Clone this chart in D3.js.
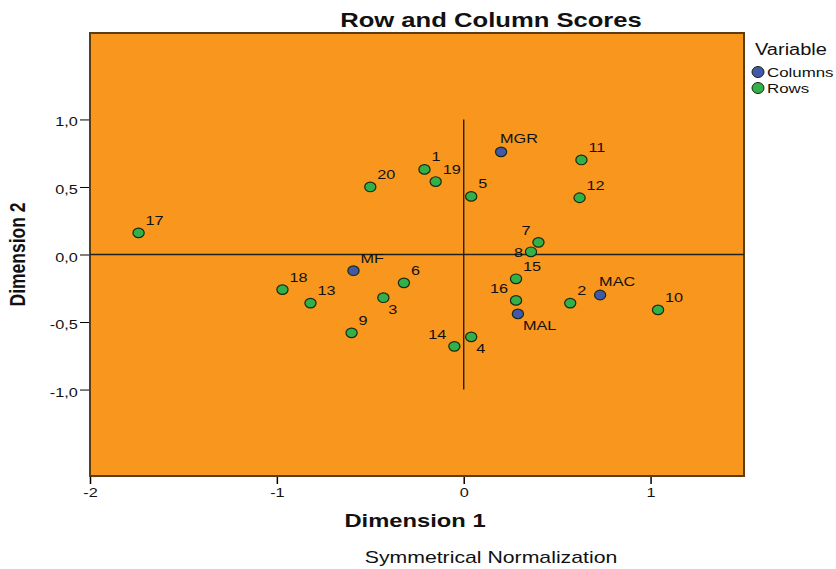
<!DOCTYPE html>
<html>
<head>
<meta charset="utf-8">
<script src="https://cdnjs.cloudflare.com/ajax/libs/d3/7.8.5/d3.min.js"></script>
<style>
body { margin: 0; background: #fff; }
text { font-family: "Liberation Sans", Arial, sans-serif; fill: #111; }
</style>
</head>
<body>
<script>
// correspondence analysis scores
var labels = ["17","20","1","19","MGR","5","11","12","7","8","15","16","MAL","2","MAC","10","4","14","9","3","6","MF","18","13"];
var dim1 = [-1.74,-0.50,-0.21,-0.15,0.20,0.04,0.63,0.62,0.40,0.36,0.28,0.28,0.29,0.57,0.73,1.04,0.04,-0.05,-0.60,-0.43,-0.32,-0.59,-0.97,-0.82];
var dim2 = [0.16,0.50,0.63,0.54,0.76,0.43,0.70,0.42,0.09,0.02,-0.18,-0.34,-0.44,-0.36,-0.30,-0.41,-0.61,-0.68,-0.58,-0.32,-0.21,-0.12,-0.26,-0.36];
var kind = ["Rows","Rows","Rows","Rows","Columns","Rows","Rows","Rows","Rows","Rows","Rows","Rows","Columns","Rows","Columns","Rows","Rows","Rows","Rows","Rows","Rows","Columns","Rows","Rows"];
var xTicks = [-2, -1, 0, 1];
var yTicks = [-1, -0.5, 0, 0.5, 1];

// where each label sits around its point
var place = { "7": "nw", "8": "w", "16": "nw", "14": "nw", "MAL": "se", "4": "se", "3": "se", "MGR": "n", "MAC": "n" };
var colors = { Columns: "#4258a8", Rows: "#33b04a" };

var W = 836, H = 569;
var m = { left: 90, top: 33, right: 744, bottom: 476 };
var S = 1.25; // the original is stretched sideways

var x = d3.scaleLinear().domain([-2, 1.5]).range([m.left, m.right]);
var y = d3.scaleLinear().domain([-1.64, 1.64]).range([m.bottom, m.top]);

var svg = d3.select("body").append("svg").attr("width", W).attr("height", H);

function txt(px, py, str, size, anchor) {
  return svg.append("text")
    .attr("transform", "translate(" + px + "," + py + ") scale(" + S + ",1)")
    .attr("text-anchor", anchor || "start")
    .attr("font-size", size)
    .text(str);
}

svg.append("rect")
  .attr("x", m.left).attr("y", m.top)
  .attr("width", m.right - m.left).attr("height", m.bottom - m.top)
  .attr("fill", "#f8961e").attr("stroke", "#5c3d12").attr("stroke-width", 2);

var fmt = d3.format(".1f");
svg.append("g")
  .attr("transform", "translate(0," + (m.bottom + 1) + ")")
  .call(d3.axisBottom(x).tickValues(xTicks).tickSize(7).tickFormat(d => String(d)))
  .call(g => g.select(".domain").remove())
  .call(g => g.selectAll("line").attr("stroke-width", 1.5))
  .call(g => g.selectAll("text").attr("font-size", 13).attr("y", 11).attr("dy", "0.71em")
    .attr("transform", "scale(" + S + ",1)")
    .style("font-family", "Liberation Sans, Arial, sans-serif").attr("fill", "#222"));

svg.append("g")
  .attr("transform", "translate(" + (m.left - 1) + ",0)")
  .call(d3.axisLeft(y).tickValues(yTicks).tickSize(9)
    .tickFormat(d => (d < 0 ? "-" : "") + Math.abs(d).toFixed(1).replace(".", ",")))
  .call(g => g.select(".domain").remove())
  .call(g => g.selectAll("text").attr("font-size", 13).attr("x", -9).attr("dy", "0.5em")
    .attr("transform", "scale(" + S + ",1)")
    .style("font-family", "Liberation Sans, Arial, sans-serif").attr("fill", "#222"));

// reference lines
svg.append("line")
  .attr("x1", m.left).attr("x2", m.right).attr("y1", y(0)).attr("y2", y(0))
  .attr("stroke", "#222").attr("stroke-width", 1.4);
svg.append("line")
  .attr("x1", x(0)).attr("x2", x(0)).attr("y1", y(1)).attr("y2", y(-1))
  .attr("stroke", "#222").attr("stroke-width", 1.4);

var pts = labels.map((l, i) => ({ label: l, d1: dim1[i], d2: dim2[i], kind: kind[i] }));

svg.selectAll("ellipse.pt").data(pts).enter().append("ellipse")
  .attr("class", "pt")
  .attr("cx", d => x(d.d1)).attr("cy", d => y(d.d2)).attr("rx", 5.6).attr("ry", 4.8)
  .attr("fill", d => colors[d.kind]).attr("stroke", "#1a2a10").attr("stroke-width", 1.2);

function off(p) {
  if (p === "nw") return [-8, -7, "end"];
  if (p === "w") return [-8, 5, "end"];
  if (p === "se") return [5, 16, "start"];
  if (p === "n") return [-1, -9, "start"];
  return [7, -8, "start"];
}
pts.forEach(d => {
  var o = off(place[d.label]);
  txt(x(d.d1) + o[0], y(d.d2) + o[1], d.label, 13, o[2]).attr("fill", "#2a1a08");
});

txt(491, 27, "Row and Column Scores", 20.5, "middle").attr("font-weight", "bold");
txt(415, 527, "Dimension 1", 19, "middle").attr("font-weight", "bold");
txt(491, 563, "Symmetrical Normalization", 17, "middle").attr("fill", "#3a3a3a");
svg.append("text").attr("transform", "translate(25," + y(0) + ") rotate(-90) scale(1," + S + ")")
  .attr("text-anchor", "middle").attr("font-size", 17.5).attr("font-weight", "bold").text("Dimension 2");

// legend
txt(755, 55, "Variable", 16).attr("fill", "#333");
["Columns", "Rows"].forEach((k, i) => {
  svg.append("ellipse").attr("cx", 758).attr("cy", 72 + i * 16).attr("rx", 6).attr("ry", 5.5)
    .attr("fill", colors[k]).attr("stroke", "#1a2a10").attr("stroke-width", 1);
  txt(767, 77 + i * 16, k, 13.5);
});
</script>
</body>
</html>
